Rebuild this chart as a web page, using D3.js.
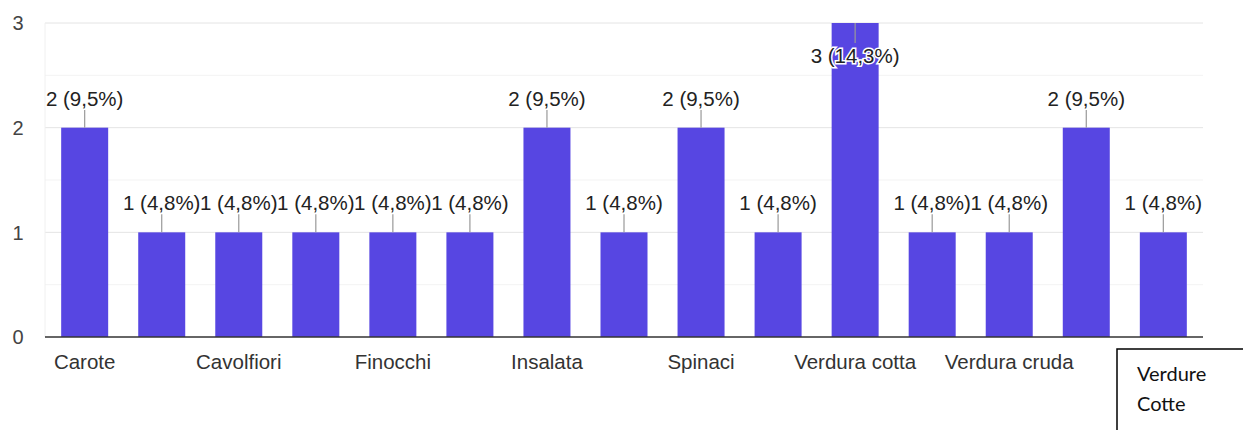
<!DOCTYPE html>
<html>
<head>
<meta charset="utf-8">
<script src="https://cdn.jsdelivr.net/npm/d3@7"></script>
<style>
  body { margin: 0; background: white; }
  svg { display: block; font-family: "Liberation Sans", Arial, sans-serif; }
</style>
</head>
<body>
<svg id="graph" width="1243" height="430"></svg>
<script>
//Data
var categories = ["Carote", "Cavoletti di Bruxelles", "Cavolfiori", "Fagiolini", "Finocchi", "Funghi",
                  "Insalata", "Melanzane", "Spinaci", "Tutte", "Verdura cotta", "Verdura cotta e cruda",
                  "Verdura cruda", "Verdure", "Zucchine"];
var counts = [2, 1, 1, 1, 1, 1, 2, 1, 2, 1, 3, 1, 1, 2, 1];
var yTicks = [0, 1, 2, 3];
var minorTicks = [0.5, 1.5, 2.5];
var noteLines = ["Verdure", "Cotte"];

var total = d3.sum(counts);
var data = categories.map(function(c, i){ return { cat: c, value: counts[i] }; });

//Dimensions
var dimensions = {
    width: 1243,
    height: 430,
    margin: { top: 23, bottom: 93, left: 45, right: 40 }
};

var svg = d3.select("#graph");

//Scales
var xScale = d3.scaleBand()
               .domain(categories)
               .range([dimensions.margin.left, dimensions.width - dimensions.margin.right])
               .paddingInner(0.39)
               .paddingOuter(0.21);

var yScale = d3.scaleLinear()
               .domain([0, 3])
               .range([dimensions.height - dimensions.margin.bottom, dimensions.margin.top]);

//Gridlines
svg.append("g")
   .selectAll("line")
   .data(minorTicks)
   .enter()
   .append("line")
   .attr("x1", dimensions.margin.left)
   .attr("x2", dimensions.width - dimensions.margin.right)
   .attr("y1", function(d){ return yScale(d); })
   .attr("y2", function(d){ return yScale(d); })
   .style("stroke", "#f3f3f3");

svg.append("g")
   .selectAll("line")
   .data(yTicks.filter(function(d){ return d > 0; }))
   .enter()
   .append("line")
   .attr("x1", dimensions.margin.left)
   .attr("x2", dimensions.width - dimensions.margin.right)
   .attr("y1", function(d){ return yScale(d); })
   .attr("y2", function(d){ return yScale(d); })
   .style("stroke", "#e4e4e4");

svg.append("line")
   .attr("x1", dimensions.margin.left)
   .attr("x2", dimensions.margin.left)
   .attr("y1", yScale(3))
   .attr("y2", yScale(0))
   .style("stroke", "#f0f0f0");

//Bars
svg.append("g")
   .selectAll("rect")
   .data(data)
   .enter()
   .append("rect")
   .attr("x", function(d){ return xScale(d.cat); })
   .attr("y", function(d){ return yScale(d.value); })
   .attr("width", xScale.bandwidth())
   .attr("height", function(d){ return yScale(0) - yScale(d.value); })
   .style("fill", "#5746e2");

//Baseline
svg.append("line")
   .attr("x1", dimensions.margin.left)
   .attr("x2", dimensions.width - dimensions.margin.right)
   .attr("y1", yScale(0))
   .attr("y2", yScale(0))
   .style("stroke", "#333")
   .style("stroke-width", 1.5);

//Y-axis labels
svg.append("g")
   .selectAll("text")
   .data(yTicks)
   .enter()
   .append("text")
   .attr("x", 18)
   .attr("y", function(d){ return yScale(d); })
   .attr("dy", "0.36em")
   .attr("text-anchor", "middle")
   .style("font-size", "20px")
   .style("fill", "#444")
   .text(function(d){ return d; });

//X-axis labels (every other category; the last one sits under the note box)
svg.append("g")
   .selectAll("text")
   .data(categories.filter(function(c, i){ return i % 2 === 0 && i < 14; }))
   .enter()
   .append("text")
   .attr("x", function(d){ return xScale(d) + xScale.bandwidth() / 2; })
   .attr("y", 369)
   .attr("text-anchor", "middle")
   .style("font-size", "20.5px")
   .style("fill", "#333")
   .text(function(d){ return d; });

//Value annotations
function fmt(v){
    return v + " (" + (v / total * 100).toFixed(1).replace(".", ",") + "%)";
}
function inside(d){
    return yScale(d.value) - 40 < dimensions.margin.top;
}

var ann = svg.append("g");
data.forEach(function(d){
    var cx = xScale(d.cat) + xScale.bandwidth() / 2;
    var top = yScale(d.value);
    var isIn = inside(d);
    ann.append("line")
       .attr("x1", cx)
       .attr("x2", cx)
       .attr("y1", top)
       .attr("y2", isIn ? top + 20 : top - 18)
       .style("stroke", "#999")
       .style("stroke-width", 1.2);
    ann.append("text")
       .attr("x", cx)
       .attr("y", isIn ? top + 40 : top - 22)
       .attr("text-anchor", "middle")
       .style("font-size", "20.5px")
       .style("fill", "#222")
       .style("stroke", "white")
       .style("stroke-width", 3)
       .style("paint-order", "stroke")
       .text(fmt(d.value));
});

//Note box
var note = svg.append("g");
note.append("rect")
    .attr("x", 1117)
    .attr("y", 349)
    .attr("width", 140)
    .attr("height", 100)
    .style("fill", "white")
    .style("stroke", "#000")
    .style("stroke-width", 1.5);
note.selectAll("text")
    .data(noteLines)
    .enter()
    .append("text")
    .attr("x", 1137)
    .attr("y", function(d, i){ return 381 + i * 30; })
    .style("font-family", "Lato, sans-serif")
    .style("font-size", "20px")
    .style("fill", "#111")
    .text(function(d){ return d; });
</script>
</body>
</html>
